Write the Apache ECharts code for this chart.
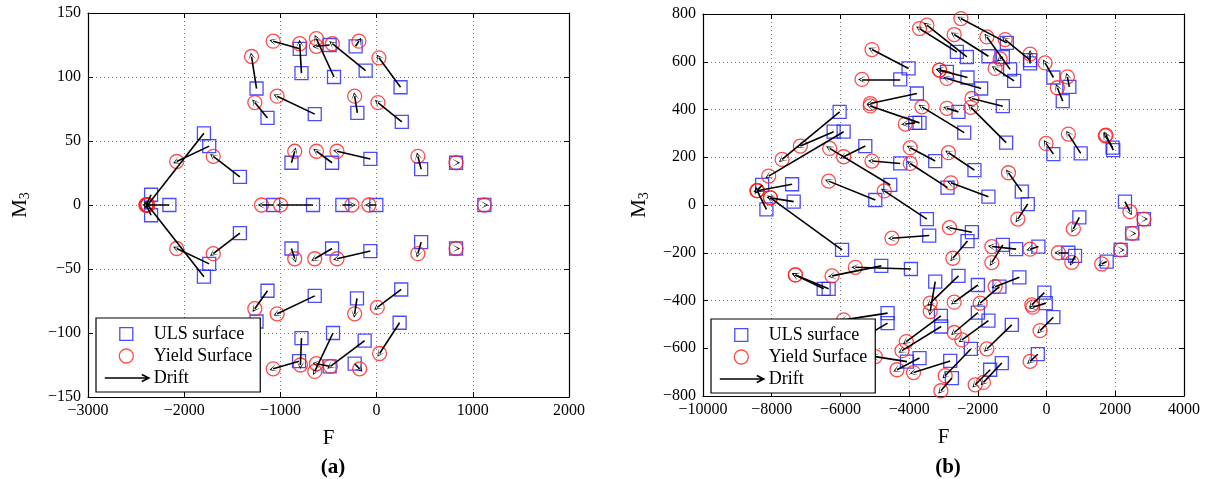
<!DOCTYPE html>
<html>
<head>
<meta charset="utf-8">
<script src="https://cdn.jsdelivr.net/npm/echarts@6/dist/echarts.min.js"></script>
<style>
  html, body { margin: 0; padding: 0; background: #fff; }
  #chart { width: 1212px; height: 479px; }
</style>
</head>
<body>
<div id="chart"></div>
<script>
// Panel (a): ULS surface points and the matching yield surface points (F, M3)
const aUlsF = [-1248, -1134, -799, -781, -643, -443, -488, -114, -218, 249, -200, 262,
               -1248, -1134, -806, -781, -643, -453, -488, -124, -228, 239, -204, 256,
               -885, -463, -65, 463, 826, -885, -463, -65, 463, 826,
               -1075, -661, -356, -3, 1120,
               -1795, -1740, -1421, -1795, -1740, -1421, -2154, -2344, -2344];
const aUlsM = [91, 68, 122, 103, 71, 100, 125, 105, 124, 92, 72, 65,
               -91, -67, -122, -104, -71, -100, -126, -106, -124, -92, -73, -66,
               33, 33, 36, 28, 33, -34, -34, -36, -29, -34,
               0, 0, 0, 0, 0,
               56, 46, 22, -56, -46, -22, 0, 8, -8];
const aYldF = [-1300, -1266, -1075, -799, -1034, -626, -626, -460, -184, 24, -228, 14,
               -1300, -1266, -1075, -792, -1034, -643, -626, -480, -176, 31, -228, 7,
               -851, -625, -412, 429, 826, -851, -643, -412, 429, 826,
               -1196, -999, -256, -80, 1120,
               -2380, -2078, -1698, -2380, -2078, -1698, -2396, -2396, -2396];
const aYldM = [116, 80, 128, 126, 85, 130, 124, 126, 128, 115, 85, 80,
               -116, -81, -128, -125, -85, -130, -124, -126, -128, -116, -85, -80,
               42, 42, 42, 38, 33, -42, -42, -42, -38, -34,
               0, 0, 0, 0, 0,
               0, 34, 38, 0, -34, -38, 0, 0, 0];

// Panel (b): ULS surface points and the matching yield surface points (F, M3)
const bUlsF = [-6023, -6198, -5907, -5276, -4549, -4985, -7407, -8279, -7360, -8154, -5953,
               -4259, -4017, -3774, -3698, -3823, -4259, -3483,
               -2611, -2320, -1157, -1692, -1061, -1273, -945, -480, -480, 198, 663, 471,
               -2302, -1904, -2901, -2398, -2564, -1273, -1177, -3241, -2884, -1692, -2099,
               -721, 198, 994, 1942, 1920,
               2282, 2834, 2494, 2157, 1750, 954, 634, 828, -547, -238, -887, -1273,
               -2174, -2302, -3416, -3948, -4811, -6343, -6488,
               -2564, -3241, -2000, -791, -1372, -3076, -3067, -64, -23, 198, -1012, -1692,
               -2000, -2204, -2805, -2756, -3698, -4064, -1303, -1642, -256, -4628, -4628];
const bUlsM = [390, 307, 307, 247, 84, 21, 87, 84, 14, -18, -188,
               526, 572, 467, 344, 344, 174, -59,
               641, 620, 679, 623, 568, 620, 520, 607, 593, 534, 495, 435,
               534, 488, 558, 303, 390, 414, 261, 184, 73, 35, 146,
               56, 213, 216, 230, 240,
               14, -59, -119, -188, -237, -52, -200, -213, 4, -174, -185, -167,
               -114, -151, -128, -268, -255, -351, -351,
               -297, -321, -335, -303, -342, -464, -509, -367, -411, -470, -502, -484,
               -451, -603, -653, -725, -641, -656, -662, -690, -625, -453, -495];
const bYldF = [-7698, -7166, -8087, -5907, -6314, -6343, -8424, -8424, -8038, -8424, -8038,
               -5372, -5081, -5131, -5131, -4113, -5081, -4724,
               -3698, -3483, -2494, -2689, -1738, -1352, -1497, -1206, -480, -44, 605, 314,
               -3116, -2901, -3116, -3628, -2901, -2174, -2204, -3968, -3968, -2785, -2855,
               -1110, -15, 634, 1730, 1710,
               2427, 2834, 2494, 2157, 1605, 779, 343, 733, -837, -480, -1593, -1593,
               -2826, -2727, -4500, -5567, -6244, -7311, -7311,
               -3387, -3387, -2689, -1497, -1933, -4084, -4209, -430, -401, -189, -1738, -2465,
               -2689, -2951, -3872, -3076, -4355, -4985, -1837, -2078, -480, -5907, -5400];
const bYldM = [191, 247, 121, 202, 237, 100, 60, 60, 30, 60, 30,
               526, 651, 425, 415, 339, 184, 59,
               739, 753, 781, 714, 704, 612, 572, 693, 632, 595, 537, 491,
               565, 530, 565, 411, 405, 446, 409, 240, 174, 93, 219,
               135, 258, 297, 293, 290,
               -28, -59, -119, -188, -247, -100, -200, -240, -59, -185, -174, -241,
               -95, -223, -139, -261, -297, -293, -293,
               -411, -446, -407, -342, -411, -572, -610, -418, -428, -526, -603, -565,
               -534, -715, -702, -778, -690, -635, -743, -753, -655, -481, -560];

// Axis ranges and tick spacing for each panel
const aTicksF = { min: -3000, max: 2000, interval: 1000 };
const aTicksM = { min: -150, max: 150, interval: 50 };
const bTicksF = { min: -10000, max: 4000, interval: 2000 };
const bTicksM = { min: -800, max: 800, interval: 200 };

const SERIF = 'Liberation Serif';
const minus = v => String(v).replace('-', '\u2212');

// Thin chevron used as the drift arrowhead (points along the line)
const ARROW_HEAD = 'path://M0,10 L5,0 L10,10 L5,2.5 Z';

function pts(xs, ys) { return xs.map((x, i) => [x, ys[i]]); }
function arrows(x0, y0, x1, y1) {
  return x0.map((x, i) => ({ coords: [[x, y0[i]], [x1[i], y1[i]]] }));
}

function mainX(gridIndex, t) {
  return {
    type: 'value', gridIndex, position: 'bottom', min: t.min, max: t.max, interval: t.interval,
    axisLine: { show: true, onZero: false, lineStyle: { color: '#000', width: 1.2 } },
    axisTick: { show: true, inside: true, length: 5, lineStyle: { color: '#000' } },
    axisLabel: { color: '#000', fontFamily: SERIF, fontSize: 16, margin: 6, formatter: minus },
    splitLine: { show: true, lineStyle: { color: '#777', type: [1, 3], width: 1 } },
    name: 'F', nameLocation: 'middle', nameGap: 31,
    nameTextStyle: { color: '#000', fontFamily: SERIF, fontSize: 21 }
  };
}
function boxX(gridIndex, t) {
  return {
    type: 'value', gridIndex, position: 'top', min: t.min, max: t.max, interval: t.interval,
    axisLine: { show: true, onZero: false, lineStyle: { color: '#000', width: 1.2 } },
    axisTick: { show: true, inside: true, length: 5, lineStyle: { color: '#000' } },
    axisLabel: { show: false }, splitLine: { show: false }
  };
}
function mainY(gridIndex, t, gap) {
  return {
    type: 'value', gridIndex, position: 'left', min: t.min, max: t.max, interval: t.interval,
    axisLine: { show: true, onZero: false, lineStyle: { color: '#000', width: 1.2 } },
    axisTick: { show: true, inside: true, length: 5, lineStyle: { color: '#000' } },
    axisLabel: { color: '#000', fontFamily: SERIF, fontSize: 16, margin: 7, formatter: minus },
    splitLine: { show: true, lineStyle: { color: '#777', type: [1, 3], width: 1 } },
    name: '{m|M}{s|3}', nameLocation: 'middle', nameGap: gap,
    nameTextStyle: {
      color: '#000', fontFamily: SERIF, fontSize: 21,
      rich: {
        m: { fontFamily: SERIF, fontSize: 21, color: '#000' },
        s: { fontFamily: SERIF, fontSize: 14, color: '#000', padding: [10, 0, 0, 0] }
      }
    }
  };
}
function boxY(gridIndex, t) {
  return {
    type: 'value', gridIndex, position: 'right', min: t.min, max: t.max, interval: t.interval,
    axisLine: { show: true, onZero: false, lineStyle: { color: '#000', width: 1.2 } },
    axisTick: { show: true, inside: true, length: 5, lineStyle: { color: '#000' } },
    axisLabel: { show: false }, splitLine: { show: false }
  };
}

function panelSeries(xi, yi, uF, uM, yF, yM) {
  return [
    {
      name: 'ULS surface', type: 'scatter', xAxisIndex: xi, yAxisIndex: yi,
      symbol: 'rect', symbolSize: 13, z: 2,
      itemStyle: { color: 'transparent', borderColor: '#1f1fff', borderWidth: 1.3 },
      emphasis: { disabled: true },
      data: pts(uF, uM)
    },
    {
      name: 'Yield Surface', type: 'scatter', xAxisIndex: xi, yAxisIndex: yi,
      symbol: 'circle', symbolSize: 14, z: 3,
      itemStyle: { color: 'transparent', borderColor: '#ff1f1f', borderWidth: 1.3 },
      emphasis: { disabled: true },
      data: pts(yF, yM)
    },
    {
      name: 'Drift', type: 'lines', coordinateSystem: 'cartesian2d', xAxisIndex: xi, yAxisIndex: yi,
      symbol: ['none', ARROW_HEAD], symbolSize: [7, 8], z: 4,
      lineStyle: { color: '#000', width: 1.6, opacity: 1 },
      emphasis: { disabled: true },
      data: arrows(uF, uM, yF, yM)
    }
  ];
}

// Legend icons sit in a 45 x 14 box so the text lines up after a long drift arrow
const ICON_SQUARE = 'path://M0,0 M45,14 M16,0.7 L29,0.7 L29,13.3 L16,13.3 Z';
const ICON_CIRCLE = 'path://M0,0 M45,14 M29.5,7 A7,7 0 1 1 15.5,7 A7,7 0 1 1 29.5,7 Z';
const ICON_DRIFT = 'path://M0,0 M45,14 M1,7 L45,7 M38,3.5 L45,7 L38,10.5';

function legendAt(left, top) {
  return {
    orient: 'vertical', left, top, itemWidth: 45, itemHeight: 14, itemGap: 4,
    padding: [7, 8, 5, 7], backgroundColor: '#fff', borderColor: '#000', borderWidth: 1.2,
    borderRadius: 0, selectedMode: false, z: 10,
    textStyle: { color: '#000', fontFamily: SERIF, fontSize: 18 },
    data: [
      { name: 'ULS surface', icon: ICON_SQUARE, itemStyle: { color: 'transparent', borderColor: '#1f1fff', borderWidth: 1.3 } },
      { name: 'Yield Surface', icon: ICON_CIRCLE, itemStyle: { color: 'transparent', borderColor: '#ff1f1f', borderWidth: 1.3 } },
      { name: 'Drift', icon: ICON_DRIFT, itemStyle: { color: 'transparent', borderColor: '#000', borderWidth: 1.6 } }
    ]
  };
}

const chart = echarts.init(document.getElementById('chart'), null, { renderer: 'canvas' });
chart.setOption({
  animation: false,
  backgroundColor: '#fff',
  title: [
    { text: '(a)', left: 328, top: 452, textAlign: 'center',
      textStyle: { fontFamily: SERIF, fontWeight: 'bold', fontSize: 21, color: '#000' } },
    { text: '(b)', left: 943, top: 452, textAlign: 'center',
      textStyle: { fontFamily: SERIF, fontWeight: 'bold', fontSize: 21, color: '#000' } }
  ],
  grid: [
    { left: 88, top: 13, width: 481, height: 384, show: false },
    { left: 703, top: 14, width: 481, height: 382, show: false }
  ],
  xAxis: [mainX(0, aTicksF), boxX(0, aTicksF), mainX(1, bTicksF), boxX(1, bTicksF)],
  yAxis: [mainY(0, aTicksM, 56), boxY(0, aTicksM), mainY(1, bTicksM, 52), boxY(1, bTicksM)],
  legend: [legendAt(96, 318), legendAt(711, 319)],
  series: [
    ...panelSeries(0, 0, aUlsF, aUlsM, aYldF, aYldM),
    ...panelSeries(2, 2, bUlsF, bUlsM, bYldF, bYldM)
  ]
});
</script>
</body>
</html>
